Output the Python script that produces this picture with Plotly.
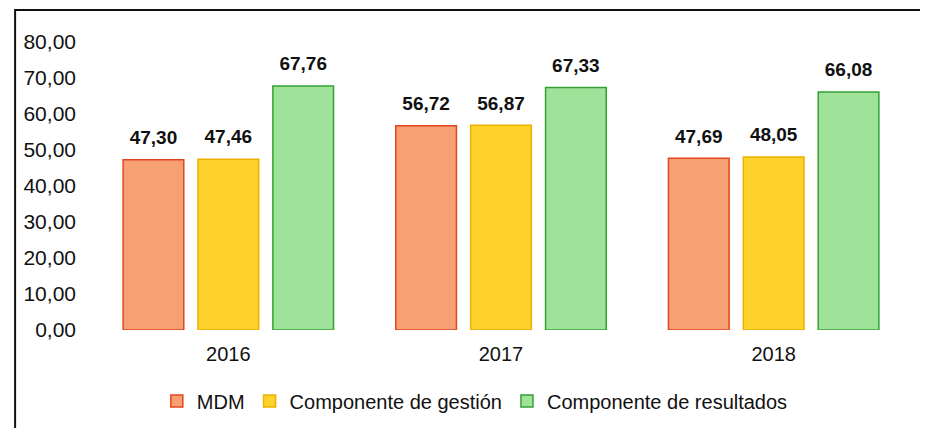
import plotly.graph_objects as go

# Data
years = ["2016", "2017", "2018"]
mdm = [47.30, 56.72, 47.69]
gestion = [47.46, 56.87, 48.05]
resultados = [67.76, 67.33, 66.08]

series_names = ["MDM", "Componente de gestión", "Componente de resultados"]
fill_colors = ["#F7A074", "#FFD22C", "#9FE29A"]
edge_colors = ["#E2471B", "#EDB000", "#35A133"]

FONT = "Liberation Sans, Arial, sans-serif"

fig = go.Figure()
for name, vals, fc, ec in zip(series_names, [mdm, gestion, resultados],
                              fill_colors, edge_colors):
    fig.add_trace(go.Bar(
        x=years, y=vals, name=name,
        marker=dict(color=fc, line=dict(color=ec, width=1.5)),
        hovertemplate="%{x}: %{y:.2f}<extra>" + name + "</extra>",
    ))

# value labels, grouped like the bars so they sit over each one
# (invisible markers just push the text up a little)
for name, vals in zip(series_names, [mdm, gestion, resultados]):
    fig.add_trace(go.Scatter(
        x=years, y=vals, mode="markers+text",
        marker=dict(size=16, opacity=0),
        texttemplate="<b>%{y:.2f}</b>",
        textposition="top center",
        textfont=dict(size=19, color="#111111", family=FONT),
        cliponaxis=False, showlegend=False, hoverinfo="skip",
    ))

fig.update_layout(
    width=920, height=420, autosize=False,
    margin=dict(l=84, r=18, t=34, b=98),
    paper_bgcolor="white", plot_bgcolor="white",
    separators=",.",
    barmode="group", bargap=0.176, bargroupgap=0.19,
    scattermode="group", scattergap=0.176,
    font=dict(family=FONT, size=18, color="#111111"),
    showlegend=True,
    legend=dict(
        orientation="h", x=0.468, xanchor="center",
        yref="container", y=0.064, yanchor="middle",
        font=dict(size=20, family=FONT, color="#111111"),
        itemwidth=30, traceorder="normal",
    ),
    xaxis=dict(type="category", showgrid=False, zeroline=False, showline=False,
               ticks="", ticklabelstandoff=10, automargin=False,
               tickfont=dict(size=20, family=FONT)),
    yaxis=dict(range=[0, 80], dtick=10, tickformat=".2f", showgrid=False,
               zeroline=False, showline=False, ticks="", ticklabelstandoff=15,
               automargin=False, tickfont=dict(size=21, family=FONT)),
)

# Outer frame of the scanned chart
fig.add_shape(type="rect", xref="paper", yref="paper",
              x0=-0.094, x1=1.3, y0=-0.6, y1=1.111,
              line=dict(color="#111111", width=2), layer="below")

fig.write_html("out.html")
